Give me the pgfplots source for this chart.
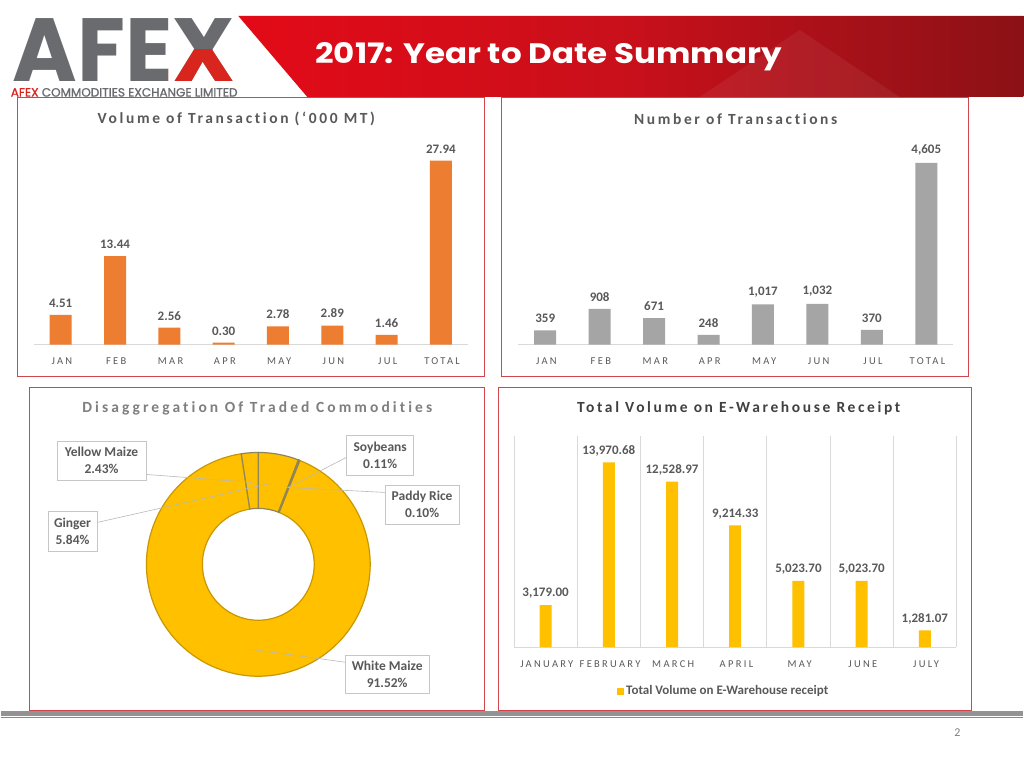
\documentclass[border=0pt]{standalone}
\usepackage{pgfplots}
\pgfplotsset{compat=1.18}
\usepackage{fontspec}
\setmainfont{Carlito}
\newfontfamily\gothic{Poppins}
\newfontfamily\gothicfb[FakeBold=1.2]{Poppins}
\newfontfamily\spaced[LetterSpace=22, Ligatures={NoCommon}]{Carlito}
\newfontfamily\titlesp[LetterSpace=17, Ligatures={NoCommon}]{Carlito}
\newfontfamily\titlespw[LetterSpace=20, Ligatures={NoCommon}]{Carlito}
\definecolor{barorange}{HTML}{ED7D31}
\definecolor{bargray}{HTML}{A5A5A5}
\definecolor{gold}{HTML}{FFC000}
\definecolor{golddark}{HTML}{C99700}
\definecolor{sliceedge}{HTML}{8F8558}
\definecolor{tgray}{HTML}{595959}
\definecolor{t3gray}{HTML}{7F7F7F}
\definecolor{t4gray}{HTML}{404040}
\definecolor{lgray}{HTML}{D9D9D9}
\definecolor{pborder}{HTML}{D2454A}
\definecolor{hred}{HTML}{E30A17}
\definecolor{hmid}{HTML}{C8101B}
\definecolor{hdark}{HTML}{8B1116}
\definecolor{logogray}{HTML}{6A6B6F}
\definecolor{logored}{HTML}{D8261E}
\begin{document}
\begin{tikzpicture}
% ---------- decorations (pixel coordinates, y down) ----------
\begin{scope}[x=1pt,y=-1pt]
\fill[white] (0,0) rectangle (1024,768);
% header banner
\shade[left color=hred, right color=hdark, middle color=hmid] (238,16) -- (1024,16) -- (1024,97) -- (307,97) -- cycle;
\fill[white, opacity=0.06] (700,97) -- (800,30) -- (900,97) -- cycle;
\node[text=white, inner sep=0, anchor=west] at (315,57) {\resizebox{467pt}{21pt}{\gothic\bfseries 2017: Year to Date Summary}};
% logo
\node[anchor=south west, inner sep=0, text=logogray] at (12,82) {\resizebox{223pt}{63pt}{\gothic\bfseries AFEX}};
\begin{scope}
\clip (168,50) rectangle (240,84);
\node[anchor=south west, inner sep=0, text=logored] at (12,82) {\resizebox{223pt}{63pt}{\gothic\bfseries AFEX}};
\end{scope}
\node[anchor=west, inner sep=0] at (10,92.5) {\resizebox{227pt}{!}{\gothicfb\textcolor{logored}{AFEX} \textcolor{logogray}{COMMODITIES EXCHANGE LIMITED}}};
% panels
\draw[pborder, line width=1pt] (17,98) rectangle (484,377);
\draw[pborder, line width=1pt] (501,98) rectangle (969,377);
\draw[pborder, line width=1pt] (29,388) rectangle (484,711);
\draw[pborder, line width=1pt] (498,388) rectangle (972,711);
% panel titles
\node[font=\titlesp\bfseries\fontsize{15.5}{18}\selectfont, text=tgray] at (236,119) {Volume of Transaction (‘000 MT)};
\node[font=\titlesp\bfseries\fontsize{15.5}{18}\selectfont, text=tgray] at (736,119) {Number of Transactions};
\node[font=\titlespw\bfseries\fontsize{15.5}{18}\selectfont, text=t3gray] at (257,409) {Disaggregation Of Traded Commodities};
\node[font=\titlesp\bfseries\fontsize{15.5}{18}\selectfont, text=t4gray] at (739,409) {Total Volume on E-Warehouse Receipt};
% footer
\fill[gray!85] (0,712) rectangle (1024,716.5);
\draw[orange!80!red, line width=1.2pt] (0,718.5) -- (1024,718.5);
\node[text=gray, font=\fontsize{12}{14}\selectfont] at (958,733) {2};
\end{scope}

% ---------- Volume of Transaction ----------
\begin{axis}[
 at={(33pt,-345pt)}, anchor=south west, scale only axis, width=435pt, height=200pt,
 xmin=-0.5, xmax=7.5, ymin=0, ymax=30.35, clip=false,
 axis y line=none, axis x line*=bottom, x axis line style={draw=lgray, line width=0.8pt, -},
 xtick={0,...,7}, xticklabels={JAN,FEB,MAR,APR,MAY,JUN,JUL,TOTAL}, major tick length=0pt,
 xticklabel style={font=\spaced\fontsize{10.5}{12}\selectfont, text=tgray, yshift=-10pt, xshift=1.2pt},
 ybar, bar width=22pt,
 nodes near coords={\pgfmathprintnumber[fixed,fixed zerofill,precision=2,assume math mode=true]{\pgfplotspointmeta}},
 every node near coord/.append style={font=\bfseries\fontsize{13}{15}\selectfont, text=tgray, yshift=4pt},
]
\addplot[fill=barorange, draw=none] coordinates {(0,4.51) (1,13.44) (2,2.56) (3,0.30) (4,2.78) (5,2.89) (6,1.46) (7,27.94)};
\end{axis}

% ---------- Number of Transactions ----------
\begin{axis}[
 at={(518pt,-345pt)}, anchor=south west, scale only axis, width=436pt, height=200pt,
 xmin=-0.5, xmax=7.5, ymin=0, ymax=5060, clip=false,
 axis y line=none, axis x line*=bottom, x axis line style={draw=lgray, line width=0.8pt, -},
 xtick={0,...,7}, xticklabels={JAN,FEB,MAR,APR,MAY,JUN,JUL,TOTAL}, major tick length=0pt,
 xticklabel style={font=\spaced\fontsize{10.5}{12}\selectfont, text=tgray, yshift=-10pt, xshift=1.2pt},
 ybar, bar width=22pt,
 nodes near coords={\pgfmathprintnumber[fixed,precision=0,1000 sep={,},assume math mode=true]{\pgfplotspointmeta}},
 every node near coord/.append style={font=\bfseries\fontsize{13}{15}\selectfont, text=tgray, yshift=4pt},
]
\addplot[fill=bargray, draw=none] coordinates {(0,359) (1,908) (2,671) (3,248) (4,1017) (5,1032) (6,370) (7,4605)};
\end{axis}

% ---------- Disaggregation donut ----------
\pgfmathsetmacro\aA{90}
\pgfmathsetmacro\aB{\aA-5.84*3.6}
\pgfmathsetmacro\aC{\aB-0.11*3.6}
\pgfmathsetmacro\aD{\aC-0.10*3.6}
\pgfmathsetmacro\aE{\aD-91.52*3.6}
\pgfmathsetmacro\aF{\aE-2.43*3.6}
\begin{axis}[
 at={(258pt,-565pt)}, anchor=center, scale only axis, width=224pt, height=224pt,
 xmin=-1, xmax=1, ymin=-1, ymax=1, hide axis, clip=false,
]
\fill[gold, draw=golddark, line width=1.2pt, shift={(axis cs:0,0)}] (\aD:112pt) arc[start angle=\aD, end angle=\aE, radius=112pt] -- (\aE:56pt) arc[start angle=\aE, end angle=\aD, radius=56pt] -- cycle;
\fill[gold, draw=sliceedge, line width=1.2pt, shift={(axis cs:0,0)}] (\aA:112pt) arc[start angle=\aA, end angle=\aB, radius=112pt] -- (\aB:56pt) arc[start angle=\aB, end angle=\aA, radius=56pt] -- cycle;
\fill[gold, draw=sliceedge, line width=1.2pt, shift={(axis cs:0,0)}] (\aB:112pt) arc[start angle=\aB, end angle=\aC, radius=112pt] -- (\aC:56pt) arc[start angle=\aC, end angle=\aB, radius=56pt] -- cycle;
\fill[gold, draw=sliceedge, line width=1.2pt, shift={(axis cs:0,0)}] (\aC:112pt) arc[start angle=\aC, end angle=\aD, radius=112pt] -- (\aD:56pt) arc[start angle=\aD, end angle=\aC, radius=56pt] -- cycle;
\fill[gold, draw=sliceedge, line width=1.2pt, shift={(axis cs:0,0)}] (\aE:112pt) arc[start angle=\aE, end angle=\aF, radius=112pt] -- (\aF:56pt) arc[start angle=\aF, end angle=\aE, radius=56pt] -- cycle;
\end{axis}
\begin{scope}[x=1pt,y=-1pt]
\draw[gray!55, line width=0.6pt] (146,475) -- (252,483);
\draw[gray!55, line width=0.6pt] (97,523) -- (270,484);
\draw[gray!55, line width=0.6pt] (346,458) -- (288,488);
\draw[gray!55, line width=0.6pt] (385,493) -- (287,488);
\draw[gray!55, line width=0.6pt] (250,650) -- (345,663);
\tikzset{lbl/.style={draw=gray!45, fill=white, align=center, font=\bfseries\fontsize{13.5}{17}\selectfont, text=tgray, inner sep=2pt}}
\node[lbl, minimum width=89pt, minimum height=39pt] at (101,461) {Yellow Maize\\2.43\%};
\node[lbl, minimum width=67pt, minimum height=40pt] at (380,456) {Soybeans\\0.11\%};
\node[lbl, minimum width=74pt, minimum height=39pt] at (422,505) {Paddy Rice\\0.10\%};
\node[lbl, minimum width=49pt, minimum height=40pt] at (72,532) {Ginger\\5.84\%};
\node[lbl, minimum width=84pt, minimum height=38pt] at (387,675) {White Maize\\91.52\%};
\end{scope}

% ---------- Total Volume on E-Warehouse Receipt ----------
\begin{axis}[
 at={(514pt,-648pt)}, anchor=south west, scale only axis, width=443pt, height=211pt,
 xmin=-0.5, xmax=6.5, ymin=0, ymax=15934, clip=false,
 axis y line=none, axis x line*=bottom, x axis line style={draw=lgray, line width=0.8pt, -},
 xtick={0,...,6}, xticklabels={JANUARY,FEBRUARY,MARCH,APRIL,MAY,JUNE,JULY}, major tick length=0pt,
 minor xtick={-0.5,0.5,1.5,2.5,3.5,4.5,5.5,6.5}, minor tick length=0pt, xminorgrids=true,
 minor x grid style={lgray, line width=0.8pt},
 xticklabel style={font=\spaced\fontsize{10.5}{12}\selectfont, text=tgray, yshift=-10pt, xshift=1.2pt},
 ybar, bar width=12pt,
 nodes near coords={\pgfmathprintnumber[fixed,fixed zerofill,precision=2,1000 sep={,},assume math mode=true]{\pgfplotspointmeta}},
 every node near coord/.append style={font=\bfseries\fontsize{13}{15}\selectfont, text=tgray, yshift=3pt},
 legend style={at={(0.474,-0.2085)}, anchor=center, draw=none, fill=none, font=\bfseries\fontsize{13}{15}\selectfont, text=tgray},
 legend image code/.code={\fill[gold] (0pt,-3.5pt) rectangle (7pt,3.5pt);},
]
\addplot[fill=gold, draw=none] coordinates {(0,3179.00) (1,13970.68) (2,12528.97) (3,9214.33) (4,5023.70) (5,5023.70) (6,1281.07)};
\addlegendentry{Total Volume on E-Warehouse receipt}
\end{axis}
\end{tikzpicture}
\end{document}
